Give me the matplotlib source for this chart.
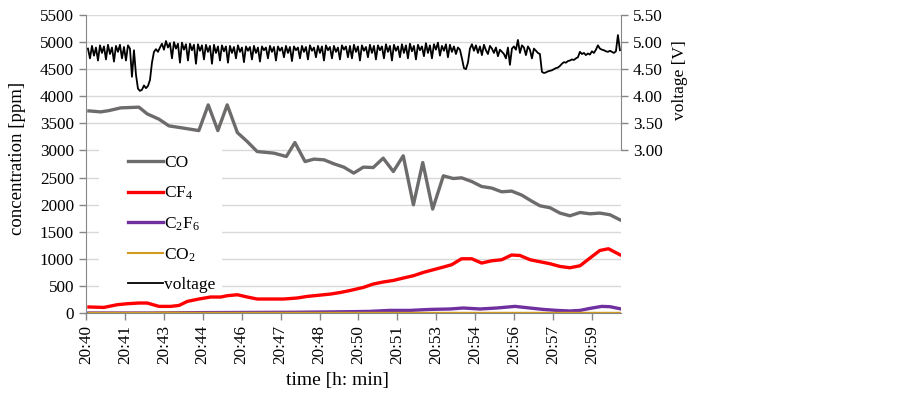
import numpy as np
import matplotlib
matplotlib.use('Agg')
import matplotlib.pyplot as plt
from matplotlib.patches import Rectangle
from matplotlib.ticker import FormatStrFormatter

plt.rcParams['font.family'] = 'Liberation Serif'
plt.rcParams['mathtext.fontset'] = 'custom'
plt.rcParams['mathtext.rm'] = 'Liberation Serif'
plt.rcParams['mathtext.default'] = 'regular'

# time axis labels (category style, roughly every 1.45 min)
tick_labels = ['20:40', '20:41', '20:43', '20:44', '20:46', '20:47', '20:48',
               '20:50', '20:51', '20:53', '20:54', '20:56', '20:57', '20:59']
tick_step = 1.455  # minutes between labels

# CO [ppm], time in minutes after 20:40
co_t = [0.11, 0.55, 0.86, 1.30, 1.98, 2.29, 2.73, 3.10, 3.66, 4.22, 4.57, 4.93, 5.28,
        5.66, 6.03, 6.40, 7.03, 7.49, 7.81, 8.19, 8.52, 8.90, 9.27, 9.64, 10.01, 10.37,
        10.74, 11.11, 11.49, 11.86, 12.24, 12.59, 12.96, 13.36, 13.73, 14.04, 14.42,
        14.79, 15.17, 15.54, 15.91, 16.29, 16.66, 16.97, 17.35, 17.72, 18.09, 18.47,
        18.84, 19.21, 19.59, 19.96]
co = [3730, 3712, 3736, 3786, 3799, 3675, 3577, 3454, 3411, 3367, 3841, 3367, 3841,
      3330, 3164, 2980, 2950, 2888, 3146, 2795, 2840, 2827, 2753, 2692, 2582, 2692,
      2685, 2858, 2611, 2901, 1997, 2777, 1918, 2532, 2482, 2495, 2427,
      2335, 2305, 2237, 2250, 2176, 2065, 1979, 1942, 1844, 1794, 1855,
      1831, 1844, 1813, 1720]

# CF4 [ppm]
cf4_t = [0.11, 0.67, 1.17, 1.54, 1.98, 2.29, 2.73, 3.17, 3.48, 3.79, 4.22, 4.66, 5.04,
         5.28, 5.66, 6.03, 6.40, 6.90, 7.40, 7.90, 8.27, 8.65, 9.15, 9.52, 9.87, 10.37,
         10.74, 11.11, 11.49, 11.86, 12.24, 12.61, 12.98, 13.36, 13.67, 14.04, 14.42,
         14.79, 15.17, 15.54, 15.91, 16.22, 16.60, 16.97, 17.35, 17.72, 18.09, 18.47,
         18.84, 19.21, 19.53, 19.96]
cf4 = [111, 103, 153, 171, 184, 184, 122, 122, 140, 214, 258, 295, 295,
       319, 337, 295, 258, 258, 258, 277, 306, 325, 350, 380, 415, 472,
       535, 572, 601, 645, 688, 749, 798, 848, 891, 1001, 1001,
       922, 964, 983, 1070, 1062, 983, 946, 909, 859, 835, 872,
       1014, 1154, 1186, 1075]

# C2F6 [ppm]
c2f6_t = [0.11, 2.5, 3.5, 6.0, 8.0, 9.87, 10.62, 11.36, 12.11, 12.86, 13.61, 14.1,
          14.73, 15.35, 16.04, 16.48, 17.09, 17.6, 18.09, 18.47, 18.84, 19.28, 19.59, 19.96]
c2f6 = [0, 0, 5, 10, 14, 24, 30, 48, 48, 66, 74, 92,
        74, 92, 122, 98, 66, 48, 37, 48, 85, 122, 116, 79]

# CO2 [ppm]
co2_t = [0.11, 2.3, 3.0, 3.6, 4.5, 10.0, 19.96]
co2 = [3, 3, 8, 6, 3, 3, 3]

# voltage [V], logged at a constant rate from 20:40:05 to about 21:00
voltage = [
    4.88, 4.70, 4.93, 4.75, 4.90, 4.66, 4.94, 4.80, 4.92, 4.68, 4.95, 4.78, 4.90, 4.64,
    4.93, 4.82, 4.95, 4.70, 4.91, 4.66, 4.94, 4.88,
    4.36, 4.85, 4.40, 4.14, 4.10, 4.12, 4.20, 4.15, 4.19, 4.30, 4.62, 4.82, 4.87, 4.82,
    4.90, 4.97, 4.86,
    5.02, 4.90, 4.98, 4.70, 5.00, 4.88, 4.97, 4.62, 4.99, 4.86,
    4.96, 4.66, 4.97, 4.85, 4.95, 4.60, 4.96, 4.84, 4.94, 4.68,
    4.95, 4.82, 4.93, 4.60, 4.95, 4.80, 4.92, 4.66, 4.94, 4.83,
    4.92, 4.62, 4.93, 4.80, 4.91, 4.70, 4.94, 4.82, 4.90, 4.63,
    4.92, 4.84, 4.91, 4.68, 4.93, 4.80, 4.90, 4.64, 4.92, 4.85,
    4.90, 4.70, 4.93, 4.82, 4.91, 4.66, 4.92, 4.84, 4.90, 4.72,
    4.93, 4.80, 4.91, 4.65, 4.92, 4.85, 4.90, 4.70, 4.93, 4.82,
    4.91, 4.68, 4.94, 4.84, 4.90, 4.72, 4.93, 4.80, 4.92, 4.66,
    4.94, 4.85, 4.91, 4.70, 4.93, 4.82, 4.90, 4.68, 4.94, 4.86,
    4.92, 4.72,
    4.93, 4.70, 4.95, 4.82, 4.92, 4.66, 4.94, 4.84, 4.91, 4.72,
    4.95, 4.80, 4.93, 4.68, 4.94, 4.85, 4.92, 4.70, 4.96, 4.82,
    4.93, 4.66, 4.95, 4.84, 4.92, 4.72, 4.96, 4.80, 4.94, 4.70,
    4.97, 4.83, 4.93, 4.68, 4.95, 4.85, 4.92, 4.74, 4.98, 4.80,
    4.94, 4.70, 4.96, 4.86, 4.99, 4.75, 4.93, 4.84, 4.96, 4.72,
    4.95, 4.82, 4.92, 4.78, 4.90, 4.86,
    4.70, 4.52, 4.50, 4.62, 4.88, 4.96, 4.84, 4.94, 4.80, 4.92,
    4.76, 4.95, 4.85, 4.78, 4.93, 4.88, 4.80, 4.90, 4.74, 4.86,
    4.82, 4.78, 4.70, 4.90, 4.58, 4.88, 4.92, 4.86, 5.04, 4.80,
    4.94, 4.90, 4.76, 4.92, 4.86, 4.70, 4.88, 4.84, 4.80,
    4.78, 4.45, 4.43, 4.44, 4.46, 4.47, 4.48, 4.50, 4.52, 4.53,
    4.56, 4.60, 4.63, 4.62, 4.65, 4.66, 4.68, 4.67, 4.70, 4.72,
    4.82, 4.78, 4.80, 4.76, 4.79, 4.77, 4.83, 4.80, 4.86, 4.94,
    4.88, 4.86, 4.85, 4.83, 4.82, 4.84, 4.82, 4.80, 4.83, 5.13,
    4.85]
volt_t = np.linspace(0.075, 19.96, len(voltage))

fig = plt.figure(figsize=(9.03, 3.95), dpi=100)
ax = fig.add_axes([0.0952, 0.2076, 0.5925, 0.7544])

spine_col = '#868686'

ax.grid(axis='y', color='#d9d9d9', linewidth=1)
ax.set_axisbelow(True)
# white block behind the legend hides the grid there
ax.add_patch(Rectangle((0.024, 0.045), 0.23, 0.536, transform=ax.transAxes,
                       facecolor='white', edgecolor='none', zorder=1))
l_co, = ax.plot(co_t, co, color='#6e6b6b', lw=2.4, label='CO')
l_cf4, = ax.plot(cf4_t, cf4, color='#ff0000', lw=2.4, label='CF$_4$')
l_c2f6, = ax.plot(c2f6_t, c2f6, color='#7030a0', lw=2.4, label='C$_2$F$_6$')
l_co2, = ax.plot(co2_t, co2, color='#d29b1f', lw=1.5, label='CO$_2$')

ax.set_xlim(0, 20)
ax.set_ylim(0, 5500)
ax.set_yticks(range(0, 5501, 500))
ax.set_xticks(np.arange(len(tick_labels)) * tick_step)
ax.set_xticklabels(tick_labels, rotation=90)
ax.tick_params(labelsize=12.3, color=spine_col, length=5, width=1)
for s in ['top', 'right']:
    ax.spines[s].set_visible(False)
for s in ['left', 'bottom']:
    ax.spines[s].set_color(spine_col)

# voltage on the right axis (same scale: 1 V = 1000 ppm)
ax2 = ax.twinx()
l_v, = ax2.plot(volt_t, voltage, color='black', lw=1.3, label='voltage')
ax2.set_ylim(0, 5.5)
ax2.set_yticks(np.arange(3.0, 5.51, 0.5))
ax2.yaxis.set_major_formatter(FormatStrFormatter('%.2f'))
ax2.tick_params(labelsize=12.3, color=spine_col, length=5, width=1)
for s in ['top', 'left', 'bottom']:
    ax2.spines[s].set_visible(False)
ax2.spines['right'].set_color(spine_col)
ax2.spines['right'].set_bounds(3.0, 5.5)

handles = [l_co, l_cf4, l_c2f6, l_co2, l_v]
ax.legend(handles, [h.get_label() for h in handles], loc='upper left',
          bbox_to_anchor=(0.0785, 0.53), frameon=False, fontsize=12.5,
          handlelength=2.0, handletextpad=0.1, labelspacing=0.77,
          borderaxespad=0, borderpad=0)

fig.text(17.5 / 903, 1 - 158 / 395, 'concentration [ppm]', rotation=90,
         ha='center', va='center', fontsize=13.5)
fig.text(680 / 903, 1 - 80 / 395, 'voltage [V]', rotation=90,
         ha='center', va='center', fontsize=12.5)
fig.text(337 / 903, 1 - 381 / 395, 'time [h: min]', ha='center', va='center',
         fontsize=14)

fig.savefig('out.png', dpi=100)
